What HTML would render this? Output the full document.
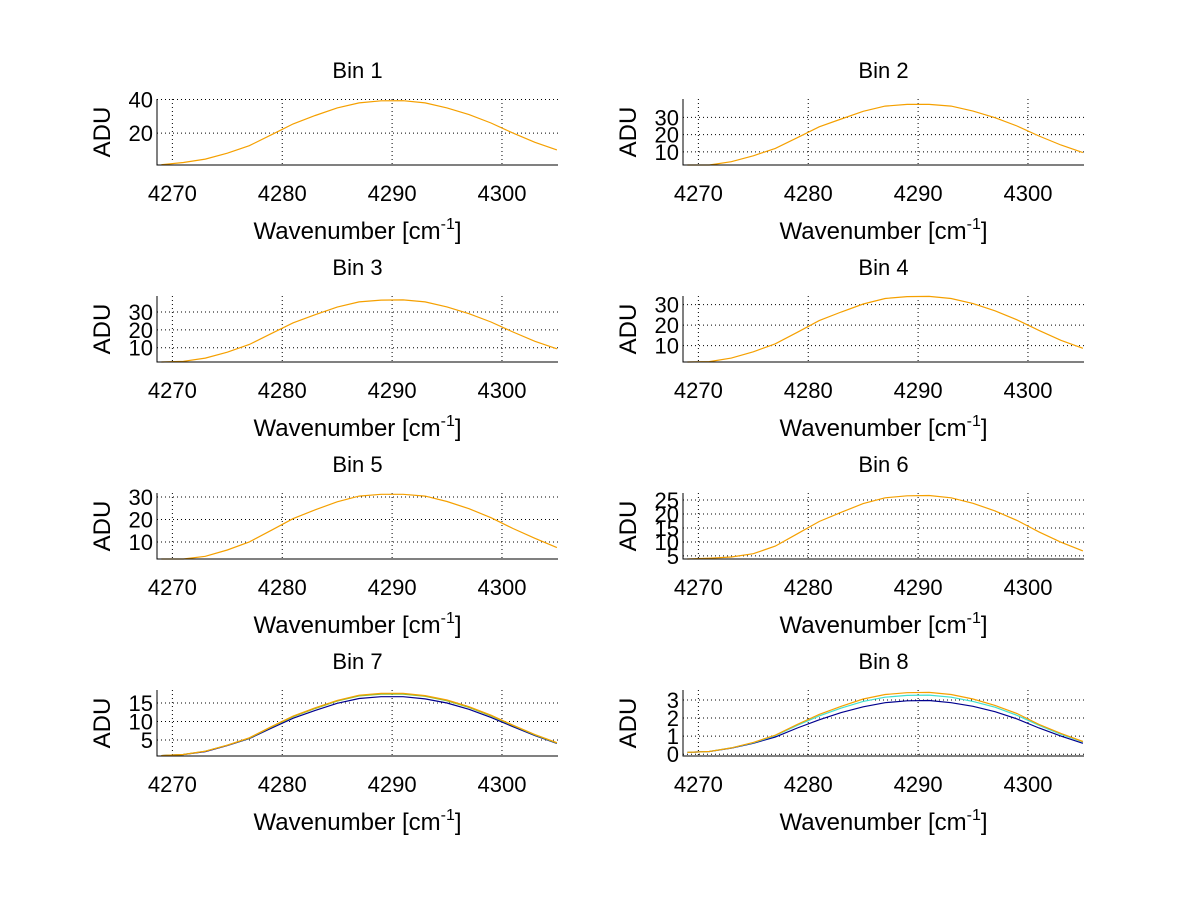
<!DOCTYPE html>
<html><head><meta charset="utf-8"><style>
body{margin:0;background:#fff}
svg text{font-family:"Liberation Sans",sans-serif;fill:#000}
</style></head><body>
<svg id="fig" width="1200" height="901" xmlns="http://www.w3.org/2000/svg"></svg>
<script>
const xs = [4269,4271,4273,4275,4277,4279,4281,4283,4285,4287,4289,4291,4293,4295,4297,4299,4301,4303,4305];
const xTicks = [4270,4280,4290,4300];
const bin1 = [1.2,2.5,4.5,8,12.5,19,25.5,30.5,35,38,39.2,39.3,38,35,31,26,20,14.5,10];
const bin2 = [1.2,2.4,4.3,7.7,12,18.2,24.5,29,33.5,36.5,37.5,37.5,36.5,33.6,29.8,25,19.2,14,9.6];
const bin3 = [1.1,2.4,4.2,7.5,11.8,17.9,24,28.5,32.8,35.7,36.7,36.8,35.7,32.9,29.1,24.4,18.8,13.6,9.4];
const bin4 = [1,2.2,3.9,7,10.9,16.5,22.2,26.4,30.3,33,33.9,34,33,30.5,27,22.6,17.4,12.6,8.7];
const bin5 = [1,2,3.6,6.4,10,15.2,20.4,24.3,27.9,30.4,31.2,31.2,30.4,28,24.8,20.8,16,11.6,7.5];
const bin6 = [3.9,4.2,4.6,5.8,8.5,12.9,17.3,20.6,23.7,25.8,26.5,26.6,25.8,23.8,21.1,17.7,13.6,9.9,6.8];
const bin7Orange = [0.8,1.1,2,3.6,5.6,8.6,11.5,13.7,15.7,17.1,17.6,17.6,17,15.8,14,11.7,9,6.5,4.3];
const bin7Green = [0.8,1.1,2,3.6,5.5,8.5,11.3,13.5,15.5,16.9,17.4,17.4,16.8,15.6,13.8,11.5,8.9,6.4,4.2];
const bin7Blue = [0.8,1.1,1.9,3.5,5.4,8.2,10.9,13,14.9,16.2,16.7,16.7,16.1,15,13.3,11.1,8.6,6.2,4.1];
const bin8Orange = [0.1,0.15,0.35,0.65,1.05,1.65,2.2,2.65,3.05,3.3,3.4,3.42,3.3,3.05,2.7,2.25,1.65,1.15,0.7];
const bin8Cyan = [0.1,0.15,0.35,0.63,1.02,1.6,2.12,2.55,2.92,3.15,3.25,3.27,3.15,2.92,2.6,2.15,1.6,1.1,0.68];
const bin8Blue = [0.1,0.15,0.33,0.6,0.95,1.45,1.9,2.3,2.62,2.85,2.95,2.97,2.85,2.65,2.35,1.95,1.45,1.0,0.6];

const panels = [
 {t:"Bin 1", col:0,row:0, ymin:1,ymax:40.3, ticks:[20,40], series:[[bin1,"#f5a000"]]},
 {t:"Bin 2", col:1,row:0, ymin:2.4,ymax:40.6, ticks:[10,20,30], series:[[bin2,"#f5a000"]]},
 {t:"Bin 3", col:0,row:1, ymin:2,ymax:39, ticks:[10,20,30], series:[[bin3,"#f5a000"]]},
 {t:"Bin 4", col:1,row:1, ymin:2,ymax:34.2, ticks:[10,20,30], series:[[bin4,"#f5a000"]]},
 {t:"Bin 5", col:0,row:2, ymin:2.4,ymax:31.8, ticks:[10,20,30], series:[[bin5,"#f5a000"]]},
 {t:"Bin 6", col:1,row:2, ymin:3.9,ymax:27.5, ticks:[5,10,15,20,25], series:[[bin6,"#f5a000"]]},
 {t:"Bin 7", col:0,row:3, ymin:0.7,ymax:18.5, ticks:[5,10,15], series:[[bin7Blue,"#00008f"],[bin7Green,"#80c040"],[bin7Orange,"#f5a000"]]},
 {t:"Bin 8", col:1,row:3, ymin:-0.1,ymax:3.55, ticks:[0,1,2,3], series:[[bin8Blue,"#00008f"],[bin8Cyan,"#40e0d0"],[bin8Orange,"#f5a000"]]}
];
const svg = document.getElementById('fig');
const NS = "http://www.w3.org/2000/svg";
function mk(tag, attrs, parent){const e=document.createElementNS(NS,tag);for(const k in attrs)e.setAttribute(k,attrs[k]);parent.appendChild(e);return e;}
const XMIN=4268.6, XMAX=4305.1;
panels.forEach((p,i)=>{
  const L = p.col===0?157:683, R=L+401, T=99+p.row*197, B=T+66;
  const g = mk('g',{},svg);
  
  
  const sx = v=>L+(v-XMIN)/(XMAX-XMIN)*(R-L);
  const sy = v=>B-(v-p.ymin)/(p.ymax-p.ymin)*(B-T);
  xTicks.forEach(t=>{
    const l=mk('line',{x1:sx(t),x2:sx(t),y1:T,y2:B,stroke:'#000','stroke-width':1,'stroke-dasharray':'1,3'},g);
    
    
    const tx=mk('text',{x:sx(t),y:B+36,'font-size':22,'text-anchor':'middle'},g);
    tx.textContent=t;
    
    
  });
  p.ticks.forEach(t=>{
    const l=mk('line',{x1:L,x2:R,y1:sy(t),y2:sy(t),stroke:'#000','stroke-width':1,'stroke-dasharray':'1,3'},g);
    
    
    const tx=mk('text',{x:L-4,y:sy(t)+8,'font-size':22,'text-anchor':'end'},g);
    tx.textContent=t;
    
    
  });
  p.series.forEach(s=>{
    const d = s[0].map((v,j)=>(j?'L':'M')+sx(xs[j]).toFixed(1)+','+Math.max(T,Math.min(B,sy(v))).toFixed(1)).join('');
    const pa=mk('path',{d:d,fill:'none',stroke:s[1],'stroke-width':1.2},g);
    
    
  });
  const ax=mk('path',{d:`M${L},${T}L${L},${B}L${R},${B}`,fill:'none',stroke:'#000','stroke-width':1},g);
  
  
  const tt=mk('text',{x:(L+R)/2,y:T-21,'font-size':22,'text-anchor':'middle'},g);
  tt.textContent=p.t;
  
  
  const yl=mk('text',{x:0,y:0,'font-size':24,'text-anchor':'middle',transform:`translate(${L-47},${(T+B)/2}) rotate(-90)`},g);
  yl.textContent='ADU';
  
  
  const xl=mk('text',{x:(L+R)/2,y:B+74,'font-size':24,'text-anchor':'middle'},g);
  xl.innerHTML='Wavenumber [cm<tspan dy="-10" font-size="16">-1</tspan><tspan dy="10">]</tspan>';
  
  
});
</script>
</body></html>
